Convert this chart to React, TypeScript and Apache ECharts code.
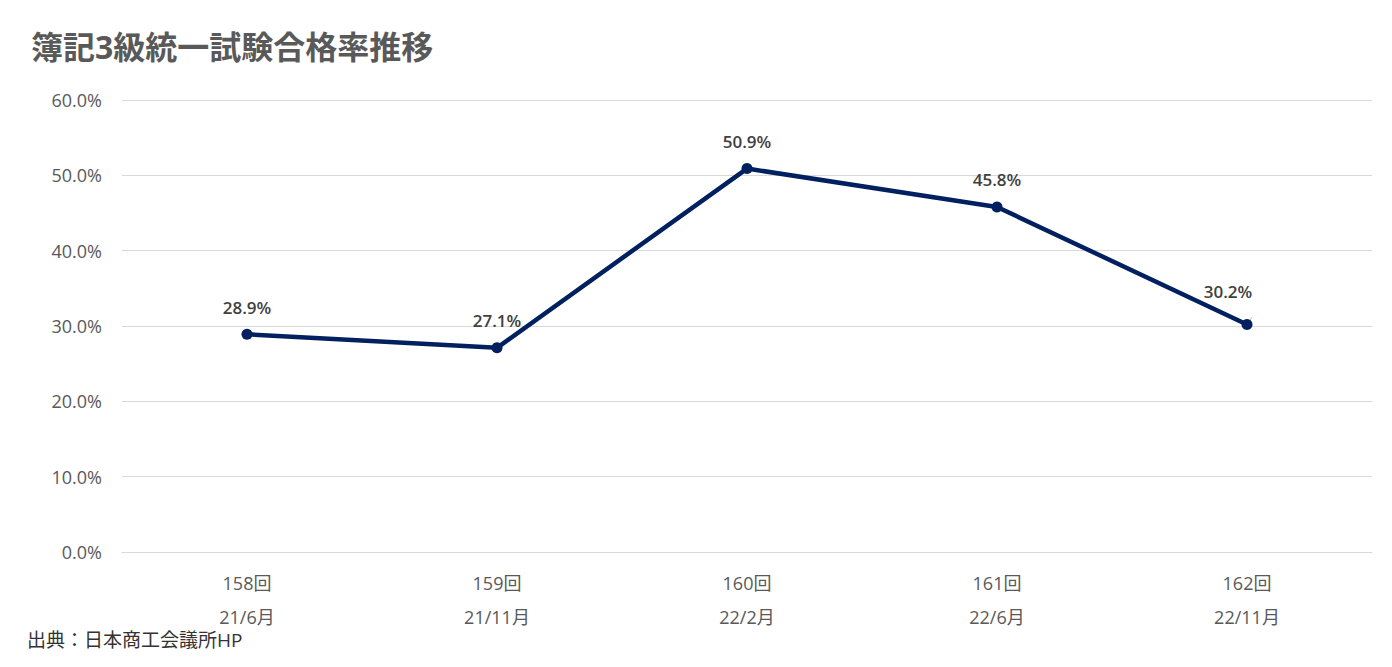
import React, { useEffect, useRef } from "react";
import * as echarts from "echarts";

const sessions = ["158回", "159回", "160回", "161回", "162回"];
const dates = ["21/6月", "21/11月", "22/2月", "22/6月", "22/11月"];
const passRates = [28.9, 27.1, 50.9, 45.8, 30.2];
const yTicks = [0, 10, 20, 30, 40, 50, 60];

const FONT = "'Open Sans', 'Noto Sans CJK JP', sans-serif";

export default function App() {
  const ref = useRef<HTMLDivElement>(null);
  useEffect(() => {
    document.body.style.margin = "0";
    const chart = echarts.init(ref.current!, null, { renderer: "svg" });
    const categories = sessions.map((s, i) => `${s}\n${dates[i]}`);
    chart.setOption({
      animation: false,
      backgroundColor: "#ffffff",
      title: {
        text: "簿記3級統一試験合格率推移",
        left: 26,
        top: 25,
        textStyle: { fontFamily: FONT, fontSize: 32, fontWeight: "bold", color: "#595959" },
      },
      graphic: [
        {
          type: "text",
          left: 27,
          top: 630,
          style: { text: "出典：日本商工会議所HP", fontFamily: FONT, fontSize: 19, fill: "#333333" },
        },
      ],
      grid: { left: 122, right: 20, top: 100, bottom: 115 },
      xAxis: {
        type: "category",
        data: categories,
        boundaryGap: true,
        axisLine: { show: true, lineStyle: { color: "#d9d9d9" } },
        axisTick: { show: false },
        axisLabel: {
          margin: 14,
          lineHeight: 34,
          fontFamily: FONT,
          fontSize: 18,
          color: "#595959",
        },
      },
      yAxis: {
        type: "value",
        min: yTicks[0],
        max: yTicks[yTicks.length - 1],
        interval: 10,
        axisLine: { show: false },
        axisTick: { show: false },
        splitLine: { lineStyle: { color: "#d9d9d9" } },
        axisLabel: {
          margin: 20,
          fontFamily: FONT,
          fontSize: 18,
          color: "#595959",
          formatter: (v: number) => `${v.toFixed(1)}%`,
        },
      },
      series: [
        {
          type: "line",
          data: passRates.map((v, i) =>
            i === passRates.length - 1
              ? {
                  value: v,
                  label: { offset: [-19, -6] },
                  labelLine: { show: true, lineStyle: { color: "#bfbfbf", width: 1 } },
                }
              : v
          ),
          symbol: "circle",
          symbolSize: 11,
          lineStyle: { color: "#002060", width: 4.5 },
          itemStyle: { color: "#002060" },
          label: {
            show: true,
            position: "top",
            distance: 13,
            fontFamily: FONT,
            fontSize: 17,
            fontWeight: 600,
            color: "#404040",
            formatter: (p: any) => `${p.value.toFixed(1)}%`,
          },
        },
      ],
    });
    return () => chart.dispose();
  }, []);
  return <div ref={ref} style={{ width: 1392, height: 667 }} />;
}
